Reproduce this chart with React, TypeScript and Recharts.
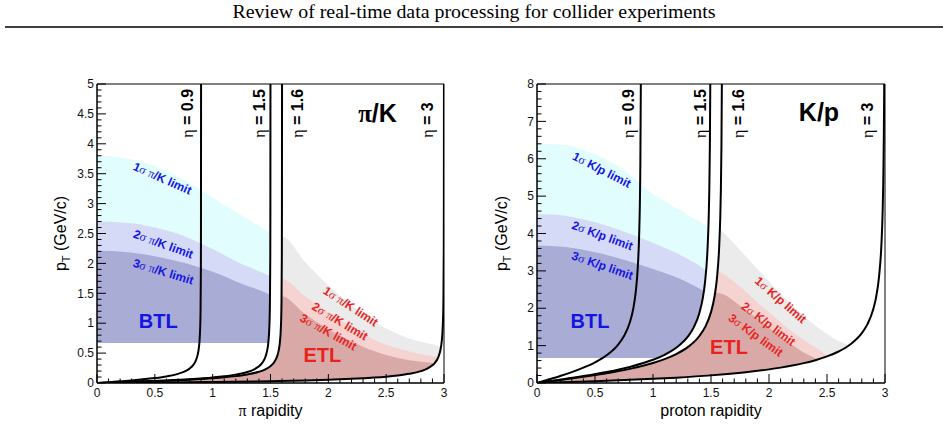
import React from 'react';
import { ComposedChart, Area, Line, XAxis, YAxis, ReferenceArea, ReferenceDot } from 'recharts';

type Pt = [number, number];
type Rg = [number, number, number];
type Seg = [string, 'g' | 'G' | 's'];
interface Ann { x: number; y: number; angle: number; anchor: 'start' | 'middle' | 'end'; color: string; size: number; segs: Seg[]; }

const BLUE = '#1414e6';
const RED = '#e8231d';
const SERIF = '"Liberation Serif", "DejaVu Serif", serif';
const SANS = '"Liberation Sans", Arial, sans-serif';

// ---------- ticks ----------
const xMajor = [0, 0.5, 1, 1.5, 2, 2.5, 3];
const xTicks = [0, 0.1, 0.2, 0.3, 0.4, 0.5, 0.6, 0.7, 0.8, 0.9, 1, 1.1, 1.2, 1.3, 1.4, 1.5, 1.6, 1.7, 1.8, 1.9, 2, 2.1, 2.2, 2.3, 2.4, 2.5, 2.6, 2.7, 2.8, 2.9, 3];
const piYMajor = [0, 0.5, 1, 1.5, 2, 2.5, 3, 3.5, 4, 4.5, 5];
const piYTicks = [0, 0.1, 0.2, 0.3, 0.4, 0.5, 0.6, 0.7, 0.8, 0.9, 1, 1.1, 1.2, 1.3, 1.4, 1.5, 1.6, 1.7, 1.8, 1.9, 2, 2.1, 2.2, 2.3, 2.4, 2.5, 2.6, 2.7, 2.8, 2.9, 3, 3.1, 3.2, 3.3, 3.4, 3.5, 3.6, 3.7, 3.8, 3.9, 4, 4.1, 4.2, 4.3, 4.4, 4.5, 4.6, 4.7, 4.8, 4.9, 5];
const pYMajor = [0, 1, 2, 3, 4, 5, 6, 7, 8];
const pYTicks = [0, 0.2, 0.4, 0.6, 0.8, 1, 1.2, 1.4, 1.6, 1.8, 2, 2.2, 2.4, 2.6, 2.8, 3, 3.2, 3.4, 3.6, 3.8, 4, 4.2, 4.4, 4.6, 4.8, 5, 5.2, 5.4, 5.6, 5.8, 6, 6.2, 6.4, 6.6, 6.8, 7, 7.2, 7.4, 7.6, 7.8, 8];

// ---------- π/K panel: eta curves (rapidity, pT) ----------
const piEta09: Pt[] = [[0, 0], [0.1, 0.0137], [0.2, 0.0279], [0.3, 0.0434], [0.4, 0.061], [0.5, 0.0823], [0.6, 0.1104], [0.7, 0.1531], [0.75, 0.1868], [0.8, 0.2408], [0.83, 0.2963], [0.85, 0.3576], [0.87, 0.4697], [0.88, 0.5804], [0.89, 0.8282], [0.895, 1.1757], [0.898, 1.8636], [0.899, 2.635], [0.8997, 5]];
const piEta15: Pt[] = [[0, 0], [0.2, 0.0133], [0.4, 0.0275], [0.6, 0.0437], [0.8, 0.0641], [1.0, 0.0924], [1.1, 0.1124], [1.2, 0.1403], [1.3, 0.1846], [1.35, 0.2205], [1.4, 0.2791], [1.43, 0.34], [1.45, 0.4073], [1.47, 0.5324], [1.48, 0.656], [1.49, 0.9337], [1.495, 1.3245], [1.498, 2.1], [1.499, 2.975], [1.4996, 5]];
const piEta16: Pt[] = [[0, 0], [0.2, 0.0119], [0.4, 0.0245], [0.6, 0.0388], [0.8, 0.0563], [1.0, 0.0795], [1.1, 0.0949], [1.2, 0.1149], [1.3, 0.1427], [1.4, 0.1872], [1.45, 0.2233], [1.5, 0.2822], [1.53, 0.3436], [1.55, 0.4114], [1.57, 0.5376], [1.58, 0.6623], [1.59, 0.9419], [1.595, 1.3357], [1.598, 2.1146], [1.599, 2.987], [1.5997, 5]];
const piEta3: Pt[] = [[0, 0], [0.5, 0.0073], [1.0, 0.0165], [1.5, 0.0304], [1.8, 0.0429], [2.0, 0.0542], [2.2, 0.0694], [2.3, 0.0791], [2.4, 0.0909], [2.5, 0.1058], [2.6, 0.1254], [2.7, 0.1533], [2.8, 0.1983], [2.85, 0.2352], [2.9, 0.2958], [2.92, 0.3341], [2.95, 0.4293], [2.97, 0.5599], [2.98, 0.6893], [2.99, 0.9797], [2.995, 1.3889], [2.998, 2.1998], [2.999, 3.1127], [2.9996, 5]];

// π/K separation bands: [rapidity, low pT, high pT]
const piBtl1: Rg[] = [[0, 0.67, 3.8], [0.25, 0.67, 3.76], [0.5, 0.67, 3.63], [0.75, 0.67, 3.4], [1.0, 0.67, 3.1], [1.25, 0.67, 2.8], [1.48, 0.67, 2.54], [1.49, 0.9337, 2.53], [1.495, 1.3245, 2.52], [1.498, 2.1, 2.52], [1.4985, 2.51, 2.51]];
const piBtl2: Rg[] = [[0, 0.67, 2.7], [0.25, 0.67, 2.68], [0.5, 0.67, 2.6], [0.75, 0.67, 2.46], [1.0, 0.67, 2.24], [1.25, 0.67, 1.99], [1.48, 0.67, 1.8], [1.49, 0.9337, 1.79], [1.495, 1.3245, 1.78], [1.497, 1.78, 1.78]];
const piBtl3: Rg[] = [[0, 0.67, 2.21], [0.25, 0.67, 2.19], [0.5, 0.67, 2.12], [0.75, 0.67, 2.01], [1.0, 0.67, 1.86], [1.25, 0.67, 1.66], [1.48, 0.67, 1.49], [1.49, 0.9337, 1.48], [1.495, 1.3245, 1.47], [1.496, 1.47, 1.47]];
const piEtl1: Rg[] = [[1.59, 0.0335, 0.9419], [1.595, 0.0338, 1.3357], [1.598, 0.034, 2.1146], [1.5985, 0.034, 2.45], [1.8, 0.0429, 2.02], [2.0, 0.0542, 1.63], [2.2, 0.0694, 1.3], [2.4, 0.0909, 1.02], [2.6, 0.1254, 0.82], [2.8, 0.1983, 0.69], [2.9, 0.2958, 0.65], [2.95, 0.4293, 0.62], [2.97, 0.5599, 0.61]];
const piEtl2: Rg[] = [[1.59, 0.0335, 0.9419], [1.595, 0.0338, 1.3357], [1.5975, 0.034, 1.74], [1.8, 0.0429, 1.45], [2.0, 0.0542, 1.18], [2.2, 0.0694, 0.94], [2.4, 0.0909, 0.72], [2.6, 0.1254, 0.58], [2.8, 0.1983, 0.48], [2.9, 0.2958, 0.45], [2.95, 0.4293, 0.435]];
const piEtl3: Rg[] = [[0, 0, 0], [0.2, 0.0028, 0.0119], [0.4, 0.0057, 0.0245], [0.6, 0.0089, 0.0388], [0.8, 0.0124, 0.0563], [1.0, 0.0165, 0.0795], [1.1, 0.0188, 0.0949], [1.2, 0.0213, 0.1149], [1.3, 0.024, 0.1427], [1.4, 0.027, 0.1872], [1.45, 0.0287, 0.2233], [1.5, 0.0304, 0.2822], [1.53, 0.0314, 0.3436], [1.55, 0.0322, 0.4114], [1.57, 0.0327, 0.5376], [1.58, 0.033, 0.6623], [1.59, 0.0335, 0.9419], [1.595, 0.0338, 1.3357], [1.596, 0.0339, 1.45], [1.8, 0.0429, 1.15], [2.0, 0.0542, 0.9], [2.2, 0.0694, 0.7], [2.4, 0.0909, 0.53], [2.6, 0.1254, 0.42], [2.8, 0.1983, 0.355], [2.9, 0.2958, 0.335], [2.915, 0.325, 0.33]];

// ---------- K/p panel ----------
const pEta09: Pt[] = [[0, 0], [0.1, 0.092], [0.2, 0.1876], [0.3, 0.2914], [0.4, 0.4095], [0.5, 0.5527], [0.6, 0.7416], [0.7, 1.0289], [0.75, 1.2553], [0.8, 1.6183], [0.83, 1.9912], [0.85, 2.4029], [0.87, 3.1561], [0.88, 3.9001], [0.89, 5.5649], [0.895, 7.8996], [0.8951, 8]];
const pEta15: Pt[] = [[0, 0], [0.2, 0.0891], [0.4, 0.1844], [0.6, 0.2939], [0.8, 0.4305], [1.0, 0.6208], [1.1, 0.7555], [1.2, 0.9428], [1.3, 1.2405], [1.35, 1.4818], [1.4, 1.8751], [1.43, 2.2844], [1.45, 2.7369], [1.47, 3.5775], [1.48, 4.4081], [1.485, 5.1033], [1.49, 6.2736], [1.4938, 8]];
const pEta16: Pt[] = [[0, 0], [0.2, 0.0798], [0.4, 0.1647], [0.6, 0.2609], [0.8, 0.3781], [1.0, 0.5339], [1.1, 0.6377], [1.2, 0.7719], [1.3, 0.9591], [1.4, 1.2577], [1.45, 1.5002], [1.5, 1.8962], [1.53, 2.3085], [1.55, 2.7646], [1.57, 3.6119], [1.58, 4.4499], [1.585, 5.1533], [1.59, 6.3288], [1.5937, 8]];
const pEta3: Pt[] = [[0, 0], [0.5, 0.0489], [1.0, 0.1108], [1.2, 0.143], [1.5, 0.204], [1.8, 0.2882], [2.0, 0.3643], [2.1, 0.4112], [2.2, 0.466], [2.3, 0.5313], [2.4, 0.6107], [2.5, 0.7108], [2.6, 0.8426], [2.7, 1.0299], [2.8, 1.3326], [2.85, 1.5805], [2.9, 1.9875], [2.92, 2.2451], [2.95, 2.8845], [2.97, 3.7622], [2.98, 4.6314], [2.985, 5.3613], [2.99, 6.5831], [2.9932, 8]];

const pBtl1: Rg[] = [[0, 0.67, 6.41], [0.25, 0.67, 6.36], [0.5, 0.67, 6.12], [0.75, 0.67, 5.7], [1.0, 0.67, 5.06], [1.036, 0.67, 4.99], [1.1, 0.7555, 4.86], [1.2, 0.9428, 4.68], [1.3, 1.2405, 4.5], [1.35, 1.4818, 4.41], [1.4, 1.8751, 4.32], [1.43, 2.2844, 4.26], [1.45, 2.7369, 4.22], [1.47, 3.5775, 4.19], [1.477, 4.17, 4.17]];
const pBtl2: Rg[] = [[0, 0.67, 4.52], [0.25, 0.67, 4.47], [0.5, 0.67, 4.3], [0.75, 0.67, 4.05], [1.0, 0.67, 3.75], [1.036, 0.67, 3.7], [1.1, 0.7555, 3.62], [1.2, 0.9428, 3.48], [1.3, 1.2405, 3.32], [1.35, 1.4818, 3.23], [1.4, 1.8751, 3.14], [1.43, 2.2844, 3.07], [1.45, 2.7369, 3.02], [1.457, 3.0, 3.0]];
const pBtl3: Rg[] = [[0, 0.67, 3.68], [0.25, 0.67, 3.64], [0.5, 0.67, 3.5], [0.75, 0.67, 3.3], [1.0, 0.67, 3.05], [1.036, 0.67, 3.01], [1.1, 0.7555, 2.94], [1.2, 0.9428, 2.83], [1.3, 1.2405, 2.69], [1.35, 1.4818, 2.61], [1.4, 1.8751, 2.53], [1.43, 2.2844, 2.47], [1.438, 2.44, 2.44]];
const pEtl1: Rg[] = [[1.55, 0.2162, 2.7646], [1.57, 0.2232, 3.6119], [1.576, 0.225, 4.12], [1.6, 0.229, 4.05], [1.75, 0.272, 3.56], [1.9, 0.3237, 3.05], [2.04, 0.3822, 2.58], [2.2, 0.466, 2.08], [2.32, 0.5459, 1.74], [2.45, 0.6577, 1.42], [2.61, 0.8583, 1.11], [2.69, 1.0075, 1.01]];
const pEtl2: Rg[] = [[1.5, 0.204, 1.8962], [1.53, 0.2115, 2.3085], [1.55, 0.2162, 2.7646], [1.556, 0.218, 2.98], [1.6, 0.229, 2.92], [1.75, 0.272, 2.58], [1.9, 0.3237, 2.16], [2.04, 0.3822, 1.78], [2.2, 0.466, 1.38], [2.32, 0.5459, 1.11], [2.45, 0.6577, 0.85], [2.5, 0.7108, 0.73]];
const pEtl3: Rg[] = [[0, 0, 0], [0.2, 0.0189, 0.0798], [0.4, 0.0385, 0.1647], [0.6, 0.0597, 0.2609], [0.8, 0.0835, 0.3781], [1.0, 0.1108, 0.5339], [1.1, 0.1262, 0.6377], [1.2, 0.143, 0.7719], [1.3, 0.1614, 0.9591], [1.4, 0.1816, 1.2577], [1.45, 0.1925, 1.5002], [1.5, 0.204, 1.8962], [1.53, 0.2115, 2.3085], [1.536, 0.213, 2.42], [1.6, 0.229, 2.38], [1.75, 0.272, 2.07], [1.9, 0.3237, 1.72], [2.04, 0.3822, 1.38], [2.2, 0.466, 1.02], [2.32, 0.5459, 0.78], [2.42, 0.6288, 0.63]];

// ---------- annotations ----------
const piBand = (n: string): Seg[] => [[n, 's'], ['σ', 'g'], [' ', 's'], ['π', 'g'], ['/K limit', 's']];
const pBand = (n: string): Seg[] => [[n, 's'], ['σ', 'g'], [' K/p limit', 's']];

const piAnns: Ann[] = [
  { x: 0.565, y: 3.42, angle: 24, anchor: 'middle', color: BLUE, size: 12, segs: piBand('1') },
  { x: 0.573, y: 2.32, angle: 20, anchor: 'middle', color: BLUE, size: 12, segs: piBand('2') },
  { x: 0.573, y: 1.86, angle: 17, anchor: 'middle', color: BLUE, size: 12, segs: piBand('3') },
  { x: 0.53, y: 1.04, angle: 0, anchor: 'middle', color: BLUE, size: 20, segs: [['BTL', 's']] },
  { x: 2.193, y: 1.28, angle: 33, anchor: 'middle', color: RED, size: 12, segs: piBand('1') },
  { x: 2.1, y: 1.03, angle: 31, anchor: 'middle', color: RED, size: 12, segs: piBand('2') },
  { x: 2.0, y: 0.85, angle: 29, anchor: 'middle', color: RED, size: 12, segs: piBand('3') },
  { x: 1.948, y: 0.46, angle: 0, anchor: 'middle', color: RED, size: 20, segs: [['ETL', 's']] },
  { x: 2.425, y: 4.507, angle: 0, anchor: 'middle', color: '#000', size: 25, segs: [['π', 'G'], ['/K', 's']] },
  { x: 0.781, y: 4.1, angle: -90, anchor: 'start', color: '#000', size: 16, segs: [['η', 'g'], [' = 0.9', 's']] },
  { x: 1.398, y: 4.1, angle: -90, anchor: 'start', color: '#000', size: 16, segs: [['η', 'g'], [' = 1.5', 's']] },
  { x: 1.726, y: 4.1, angle: -90, anchor: 'start', color: '#000', size: 16, segs: [['η', 'g'], [' = 1.6', 's']] },
  { x: 2.856, y: 4.1, angle: -90, anchor: 'start', color: '#000', size: 16, segs: [['η', 'g'], [' = 3', 's']] },
];

const pAnns: Ann[] = [
  { x: 0.558, y: 5.7, angle: 27, anchor: 'middle', color: BLUE, size: 12, segs: pBand('1') },
  { x: 0.563, y: 3.94, angle: 20, anchor: 'middle', color: BLUE, size: 12, segs: pBand('2') },
  { x: 0.563, y: 3.14, angle: 19, anchor: 'middle', color: BLUE, size: 12, segs: pBand('3') },
  { x: 0.457, y: 1.67, angle: 0, anchor: 'middle', color: BLUE, size: 20, segs: [['BTL', 's']] },
  { x: 2.1, y: 2.22, angle: 41, anchor: 'middle', color: RED, size: 12, segs: pBand('1') },
  { x: 1.994, y: 1.58, angle: 37, anchor: 'middle', color: RED, size: 12, segs: pBand('2') },
  { x: 1.885, y: 1.28, angle: 36, anchor: 'middle', color: RED, size: 12, segs: pBand('3') },
  { x: 1.655, y: 0.955, angle: 0, anchor: 'middle', color: RED, size: 20, segs: [['ETL', 's']] },
  { x: 2.431, y: 7.26, angle: 0, anchor: 'middle', color: '#000', size: 25, segs: [['K/p', 's']] },
  { x: 0.787, y: 6.555, angle: -90, anchor: 'start', color: '#000', size: 16, segs: [['η', 'g'], [' = 0.9', 's']] },
  { x: 1.405, y: 6.555, angle: -90, anchor: 'start', color: '#000', size: 16, segs: [['η', 'g'], [' = 1.5', 's']] },
  { x: 1.735, y: 6.555, angle: -90, anchor: 'start', color: '#000', size: 16, segs: [['η', 'g'], [' = 1.6', 's']] },
  { x: 2.847, y: 6.555, angle: -90, anchor: 'start', color: '#000', size: 16, segs: [['η', 'g'], [' = 3', 's']] },
];

const FILL = { btl1: '#e1fdfd', btl2: '#d5daf7', btl3: '#a9acd5', etl1: '#ebebeb', etl2: '#f5d3d1', etl3: '#d9a9a8' };

interface PanelCfg {
  margin: { top: number; right: number; bottom: number; left: number };
  ymax: number;
  yTicks: number[];
  yMajor: number[];
  bands: { pts: Rg[]; fill: string }[];
  curves: Pt[][];
  anns: Ann[];
}

const piCfg: PanelCfg = {
  margin: { top: 84, right: 30, bottom: 13, left: 57 },
  ymax: 5, yTicks: piYTicks, yMajor: piYMajor,
  bands: [
    { pts: piBtl1, fill: FILL.btl1 }, { pts: piBtl2, fill: FILL.btl2 }, { pts: piBtl3, fill: FILL.btl3 },
    { pts: piEtl1, fill: FILL.etl1 }, { pts: piEtl2, fill: FILL.etl2 }, { pts: piEtl3, fill: FILL.etl3 },
  ],
  curves: [piEta09, piEta15, piEta16, piEta3],
  anns: piAnns,
};

const pCfg: PanelCfg = {
  margin: { top: 84, right: 63, bottom: 13, left: 23 },
  ymax: 8, yTicks: pYTicks, yMajor: pYMajor,
  bands: [
    { pts: pBtl1, fill: FILL.btl1 }, { pts: pBtl2, fill: FILL.btl2 }, { pts: pBtl3, fill: FILL.btl3 },
    { pts: pEtl1, fill: FILL.etl1 }, { pts: pEtl2, fill: FILL.etl2 }, { pts: pEtl3, fill: FILL.etl3 },
  ],
  curves: [pEta09, pEta15, pEta16, pEta3],
  anns: pAnns,
};

const lineRows = (pts: Pt[]) => pts.map(([x, y]) => ({ x, y }));
const rangeRows = (pts: Rg[]) => pts.map(([x, lo, hi]) => ({ x, r: [lo, hi] }));

const makeXTick = (major: number[]) => (p: any) => {
  const v = p.payload.value;
  const isMaj = major.includes(v);
  return (
    <g>
      <line x1={p.x} x2={p.x} y1={p.y} y2={p.y - (isMaj ? 9 : 4.5)} stroke="#000" strokeWidth={1} />
      {isMaj && (
        <text x={p.x} y={p.y + 14} textAnchor="middle" fontSize={12} fontFamily={SANS} fill="#111">{String(v)}</text>
      )}
    </g>
  );
};

const makeYTick = (major: number[]) => (p: any) => {
  const v = p.payload.value;
  const isMaj = major.includes(v);
  return (
    <g>
      <line x1={p.x} x2={p.x + (isMaj ? 9 : 4.5)} y1={p.y} y2={p.y} stroke="#000" strokeWidth={1} />
      {isMaj && (
        <text x={p.x - 3} y={p.y} dy="0.35em" textAnchor="end" fontSize={12} fontFamily={SANS} fill="#111">{String(v)}</text>
      )}
    </g>
  );
};

const renderAnn = (a: Ann) => (p: any) => {
  const cx = p.cx;
  const cy = p.cy;
  if (cx == null || cy == null) return <g />;
  return (
    <text x={cx} y={cy} transform={`rotate(${a.angle} ${cx} ${cy})`} textAnchor={a.anchor} dominantBaseline="central"
      fill={a.color} fontSize={a.size} fontFamily={SANS} fontWeight="bold">
      {a.segs.map(([t, f], i) => (
        <tspan key={i} fontFamily={f === 's' ? SANS : SERIF} fontWeight={f === 'g' ? 'normal' : 'bold'}>{t}</tspan>
      ))}
    </text>
  );
};

function Panel({ cfg }: { cfg: PanelCfg }) {
  return (
    <ComposedChart width={474} height={426} margin={cfg.margin}>
      {cfg.bands.map((b, i) => (
        <Area key={'band' + i} data={rangeRows(b.pts)} dataKey="r" type="monotone" fill={b.fill} fillOpacity={1}
          stroke="none" dot={false} activeDot={false} isAnimationActive={false} />
      ))}
      {cfg.curves.map((c, i) => (
        <Line key={'eta' + i} data={lineRows(c)} dataKey="y" type="monotone" stroke="#000" strokeWidth={2}
          dot={false} activeDot={false} isAnimationActive={false} />
      ))}
      <XAxis type="number" dataKey="x" domain={[0, 3]} ticks={xTicks} interval={0} allowDataOverflow
        height={30} tickSize={0} tickMargin={0} axisLine={{ stroke: '#000' }} tickLine={false} tick={makeXTick(xMajor)} />
      <YAxis type="number" domain={[0, cfg.ymax]} ticks={cfg.yTicks} interval={0} allowDataOverflow
        width={40} tickSize={0} tickMargin={0} axisLine={{ stroke: '#000' }} tickLine={false} tick={makeYTick(cfg.yMajor)} />
      <ReferenceArea x1={0} x2={3} y1={0} y2={cfg.ymax} fill="none" fillOpacity={0} stroke="#000" strokeWidth={1} />
      {cfg.anns.map((a, i) => (
        <ReferenceDot key={'ann' + i} x={a.x} y={a.y} r={0} ifOverflow="visible" shape={renderAnn(a)} />
      ))}
    </ComposedChart>
  );
}

export default function App() {
  return (
    <div style={{ position: 'absolute', left: 0, top: 0, width: 948, height: 426, background: '#fff', overflow: 'hidden' }}>
      <svg width={948} height={426} style={{ position: 'absolute', left: 0, top: 0 }}>
        <text x={474} y={18} textAnchor="middle" fontFamily={SERIF} fontSize={18} textLength={483} lengthAdjust="spacingAndGlyphs" fill="#000">
          Review of real-time data processing for collider experiments
        </text>
        <line x1={5} x2={943} y1={27} y2={27} stroke="#000" strokeWidth={1.3} />
        <text x={270.5} y={416} textAnchor="middle" fontFamily={SANS} fontSize={16} fill="#000">
          <tspan fontFamily={SERIF}>π</tspan> rapidity
        </text>
        <text x={711} y={416} textAnchor="middle" fontFamily={SANS} fontSize={16} fill="#000">proton rapidity</text>
        <text x={66} y={233.5} transform="rotate(-90 66 233.5)" textAnchor="middle" fontFamily={SANS} fontSize={16} fill="#000">
          <tspan>p</tspan><tspan dy={4} fontSize={11}>T</tspan><tspan dy={-4}> (GeV/c)</tspan>
        </text>
        <text x={507} y={233.5} transform="rotate(-90 507 233.5)" textAnchor="middle" fontFamily={SANS} fontSize={16} fill="#000">
          <tspan>p</tspan><tspan dy={4} fontSize={11}>T</tspan><tspan dy={-4}> (GeV/c)</tspan>
        </text>
      </svg>
      <div style={{ position: 'absolute', left: 0, top: 0 }}>
        <Panel cfg={piCfg} />
      </div>
      <div style={{ position: 'absolute', left: 474, top: 0 }}>
        <Panel cfg={pCfg} />
      </div>
    </div>
  );
}
